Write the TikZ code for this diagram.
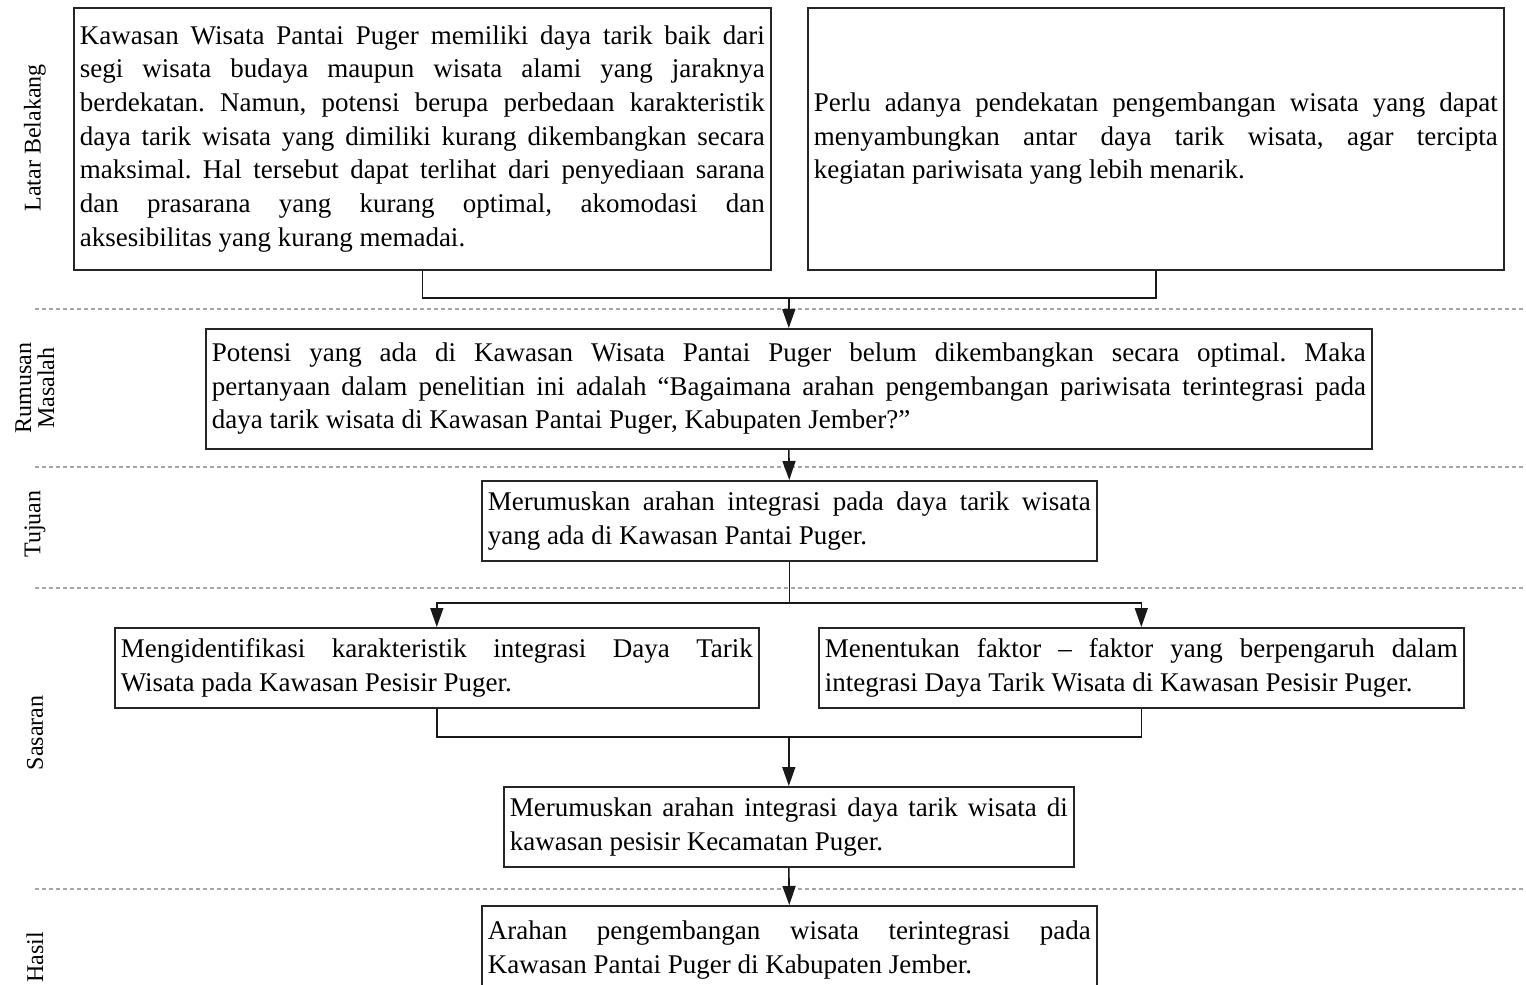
\documentclass[tikz,border=0pt]{standalone}
\usepackage{fontspec}
\setmainfont{Liberation Serif}
\usetikzlibrary{arrows.meta}
\frenchspacing

\begin{document}
\begin{tikzpicture}[x=0.5pt,y=-0.5pt]
    \tikzstyle{box}=[draw=black!85,line width=0.8pt,rectangle,anchor=north west,inner xsep=3pt,inner ysep=0pt,align=justify,font=\fontsize{13.5}{16.85}\selectfont]
    \tikzstyle{side}=[rotate=90,align=center,font=\fontsize{12}{11.5}\selectfont]
    \tikzstyle{sepline}=[draw=black!35,line width=0.6pt,dash pattern=on 2pt off 1.5pt]
    \tikzstyle{link}=[draw=black!90,line width=0.8pt]
    \tikzstyle{arr}=[link,-{Triangle[length=9.5pt,width=6.5pt]}]
    \useasboundingbox (0,0) rectangle (1526,985);

    % pemisah
    \draw[sepline] (35,309) -- (1526,309);
    \draw[sepline] (35,467) -- (1526,467);
    \draw[sepline] (35,588) -- (1526,588);
    \draw[sepline] (35,889) -- (1526,889);

    % label samping
    \node[side] (lbl1) at (35,138) {Latar Belakang};
    \node[side] (lbl2) at (35,388) {Rumusan\\Masalah};
    \node[side] (lbl3) at (35,524) {Tujuan};
    \node[side] (lbl4) at (35,733) {Sasaran};
    \node[side] (lbl5) at (35,957) {Hasil};

    % latar belakang
    \node[box,text width=342.5pt,minimum height=131pt] (lb1) at (73,7)
      {Kawasan Wisata Pantai Puger memiliki daya tarik baik dari\linebreak
       segi wisata budaya maupun wisata alami yang jaraknya\linebreak
       berdekatan. Namun, potensi berupa perbedaan karakteristik\linebreak
       daya tarik wisata yang dimiliki kurang dikembangkan secara\linebreak
       maksimal. Hal tersebut dapat terlihat dari penyediaan sarana\linebreak
       dan prasarana yang kurang optimal, akomodasi dan\linebreak
       aksesibilitas yang kurang memadai.};
    \node[box,text width=342pt,minimum height=131pt] (lb2) at (807,7)
      {Perlu adanya pendekatan pengembangan wisata yang dapat\linebreak
       menyambungkan antar daya tarik wisata, agar tercipta\linebreak
       kegiatan pariwisata yang lebih menarik.};

    % rumusan masalah
    \node[box,text width=577pt,minimum height=60pt] (rm) at (205,328)
      {Potensi yang ada di Kawasan Wisata Pantai Puger belum dikembangkan secara optimal. Maka\linebreak
       pertanyaan dalam penelitian ini adalah “Bagaimana arahan pengembangan pariwisata terintegrasi pada\linebreak
       daya tarik wisata di Kawasan Pantai Puger, Kabupaten Jember?”};

    % tujuan
    \node[box,text width=301.5pt,minimum height=40pt] (tj) at (481,480)
      {Merumuskan arahan integrasi pada daya tarik wisata\linebreak
       yang ada di Kawasan Pantai Puger.};

    % sasaran
    \node[box,text width=316pt,minimum height=40pt] (ss1) at (114,627)
      {Mengidentifikasi karakteristik integrasi Daya Tarik\linebreak
       Wisata pada Kawasan Pesisir Puger.};
    \node[box,text width=316.5pt,minimum height=40pt] (ss2) at (818,627)
      {Menentukan faktor -- faktor yang berpengaruh dalam\linebreak
       integrasi Daya Tarik Wisata di Kawasan Pesisir Puger.};
    \node[box,text width=279pt,minimum height=40pt] (ss3) at (503,786)
      {Merumuskan arahan integrasi daya tarik wisata di\linebreak
       kawasan pesisir Kecamatan Puger.};

    % hasil
    \node[box,text width=301.5pt,minimum height=44pt] (hs) at (481,905)
      {Arahan pengembangan wisata terintegrasi pada\linebreak
       Kawasan Pantai Puger di Kabupaten Jember.};

    % penghubung
    \coordinate (j1) at (rm.north |- 0,298);
    \coordinate (j2) at (tj.south |- 0,603);
    \coordinate (j3) at (ss3.north |- 0,737);
    \draw[link] (lb1.south) |- (j1) -| (lb2.south);
    \draw[arr] (j1) -- (rm.north);
    \draw[arr] (rm.south) -- (tj.north);
    \draw[link] (tj.south) -- (j2);
    \draw[arr] (j2) -| (ss1.north);
    \draw[arr] (j2) -| (ss2.north);
    \draw[link] (ss1.south) |- (j3) -| (ss2.south);
    \draw[arr] (j3) -- (ss3.north);
    \draw[arr] (ss3.south) -- (hs.north);
\end{tikzpicture}
\end{document}
